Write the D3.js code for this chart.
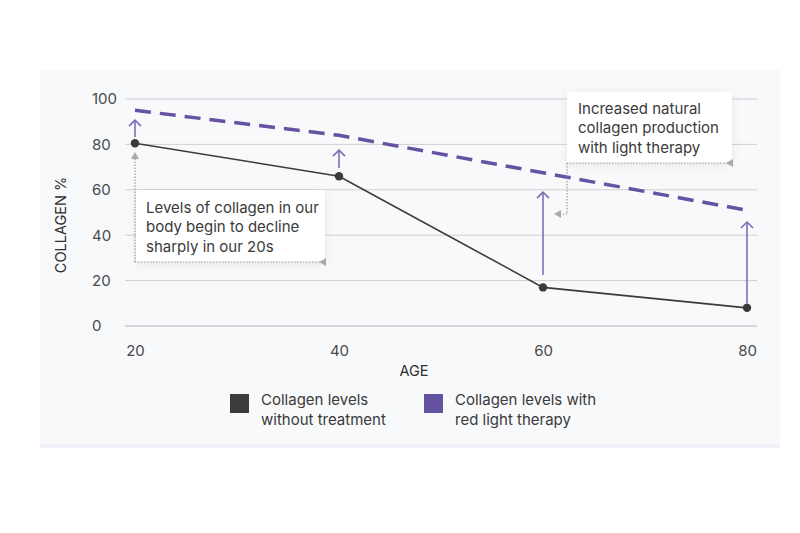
<!DOCTYPE html>
<html><head><meta charset="utf-8">
<script src="https://cdn.jsdelivr.net/npm/d3@7"></script>
<style>body{margin:0;background:#fff;} svg{display:block;font-family:Inter, "Noto Sans", sans-serif;}</style>
</head><body>
<svg id="c" width="800" height="533"></svg>
<script>
const ages = [20, 40, 60, 80];
const withoutTreatment = [80.5, 66, 17, 8];
const withTherapy = [95, 84, 67.5, 51];
const arrowFrom = [83.3, 69.6, 22.5, 7.9];
const arrowTo = [90.7, 77.5, 59, 45.8];
const yTicks = [0, 20, 40, 60, 80, 100];
const xTicks = [20, 40, 60, 80];
const legendLabels = [["Collagen levels", "without treatment"], ["Collagen levels with", "red light therapy"]];
const note1 = ["Levels of collagen in our", "body begin to decline", "sharply in our 20s"];
const note2 = ["Increased natural", "collagen production", "with light therapy"];

const svg = d3.select("#c");
const dark = "#3d3a3b", purple = "#6552a3", arrowC = "#7d6fb5", txt = "#4a4a4a";

// panel
svg.append("rect").attr("x",40).attr("y",70).attr("width",740).attr("height",378).attr("fill","#f3f0fa");
svg.append("rect").attr("x",40).attr("y",70).attr("width",740).attr("height",374).attr("fill","#f8f9fb");

const x = d3.scaleLinear().domain([20,80]).range([135,747]);
const y = d3.scaleLinear().domain([0,100]).range([326,99]);

const defs = svg.append("defs");
const f = defs.append("filter").attr("id","sh").attr("x","-20%").attr("y","-20%").attr("width","140%").attr("height","150%");
f.append("feDropShadow").attr("dx",0).attr("dy",2).attr("stdDeviation",4).attr("flood-color","#000").attr("flood-opacity",0.08);

// grid
const g = svg.append("g");
g.selectAll("line.grid").data(yTicks).join("line")
  .attr("x1",125).attr("x2",757).attr("y1",d=>y(d)).attr("y2",d=>y(d))
  .attr("stroke",d=>d===0?"#c9c9cc":"#cfcfd2").attr("stroke-width",d=>d===0?1.5:1);

// y axis labels
const yAxis = d3.axisLeft(y).tickValues(yTicks).tickSize(0).tickPadding(0);
const ya = svg.append("g").attr("transform","translate(92,0)").call(yAxis);
ya.select(".domain").remove();
ya.selectAll("text").attr("text-anchor","start").attr("font-size",15).attr("fill",txt).attr("dy","0.32em").attr("font-family","Inter, sans-serif");

const xAxis = d3.axisBottom(x).tickValues(xTicks).tickSize(0).tickPadding(0);
const xa = svg.append("g").attr("transform","translate(0,351)").call(xAxis);
xa.select(".domain").remove();
xa.selectAll("text").attr("font-size",15).attr("fill",txt).attr("dy","0.32em").attr("font-family","Inter, sans-serif");

svg.append("text").attr("x",414).attr("y",376).attr("text-anchor","middle").attr("font-size",14.5).attr("fill","#2e2e2e").text("AGE");
svg.append("text").attr("transform","translate(66,225) rotate(-90)").attr("text-anchor","middle").attr("font-size",14.5).attr("fill","#2e2e2e").text("COLLAGEN %");

// dashed therapy line
const line = d3.line().x((d,i)=>x(ages[i])).y(d=>y(d));
svg.append("path").attr("d",line(withTherapy)).attr("fill","none").attr("stroke",purple).attr("stroke-width",3.5).attr("stroke-dasharray","16,9");

// arrows
ages.forEach((a,i)=>{
  const xx = x(a), y1 = y(arrowFrom[i]), y2 = y(arrowTo[i]);
  svg.append("line").attr("x1",xx).attr("x2",xx).attr("y1",y1).attr("y2",y2).attr("stroke",arrowC).attr("stroke-width",1.6);
  svg.append("path").attr("d",`M${xx-6},${y2+6}L${xx},${y2}L${xx+6},${y2+6}`).attr("fill","none").attr("stroke",arrowC).attr("stroke-width",1.6);
});

// black line
svg.append("path").attr("d",line(withoutTreatment)).attr("fill","none").attr("stroke",dark).attr("stroke-width",1.6);
svg.selectAll("circle.pt").data(withoutTreatment).join("circle")
  .attr("cx",(d,i)=>x(ages[i])).attr("cy",d=>y(d)).attr("r",4.2).attr("fill",dark);

// annotation 1
const dot = "#9a9a9a";
svg.append("rect").attr("x",136).attr("y",190).attr("width",189).attr("height",72).attr("fill","#fff").attr("filter","url(#sh)");
svg.append("path").attr("d","M135,262L135,158").attr("stroke",dot).attr("stroke-width",1.2).attr("stroke-dasharray","1.5,1.5").attr("fill","none");
svg.append("path").attr("d","M135,262L320,262").attr("stroke",dot).attr("stroke-width",1.2).attr("stroke-dasharray","1.5,1.5").attr("fill","none");
svg.append("path").attr("d","M131,159L135,152L139,159Z").attr("fill","#aaa");
svg.append("path").attr("d","M319,258L326,262L319,266Z").attr("fill","#aaa").attr("transform","rotate(180,322.5,262)");
svg.append("text").attr("font-size",15).attr("fill","#3a3a3a")
  .selectAll("tspan").data(note1).join("tspan").attr("x",146).attr("y",(d,i)=>213+i*19.3).text(d=>d);

// annotation 2
svg.append("rect").attr("x",567).attr("y",92).attr("width",165).attr("height",71).attr("fill","#fff").attr("filter","url(#sh)");
svg.append("path").attr("d","M567,163L727,163").attr("stroke",dot).attr("stroke-width",1.2).attr("stroke-dasharray","1.5,1.5").attr("fill","none");
svg.append("path").attr("d","M567,163L567,214L560,214").attr("stroke",dot).attr("stroke-width",1.2).attr("stroke-dasharray","1.5,1.5").attr("fill","none");
svg.append("path").attr("d","M733,159L726,163L733,167Z").attr("fill","#aaa");
svg.append("path").attr("d","M561,210L554,214L561,218Z").attr("fill","#aaa");
svg.append("text").attr("font-size",15).attr("fill","#3a3a3a")
  .selectAll("tspan").data(note2).join("tspan").attr("x",578).attr("y",(d,i)=>114+i*19.3).text(d=>d);

// legend
const legX = [230, 424], legC = [dark, purple];
legendLabels.forEach((lab,i)=>{
  svg.append("rect").attr("x",legX[i]).attr("y",394).attr("width",19).attr("height",19).attr("fill",legC[i]);
  svg.append("text").attr("font-size",15).attr("fill","#3a3a3a")
    .selectAll("tspan").data(lab).join("tspan").attr("x",legX[i]+31).attr("y",(d,j)=>405+j*20).text(d=>d);
});
</script>
</body></html>
